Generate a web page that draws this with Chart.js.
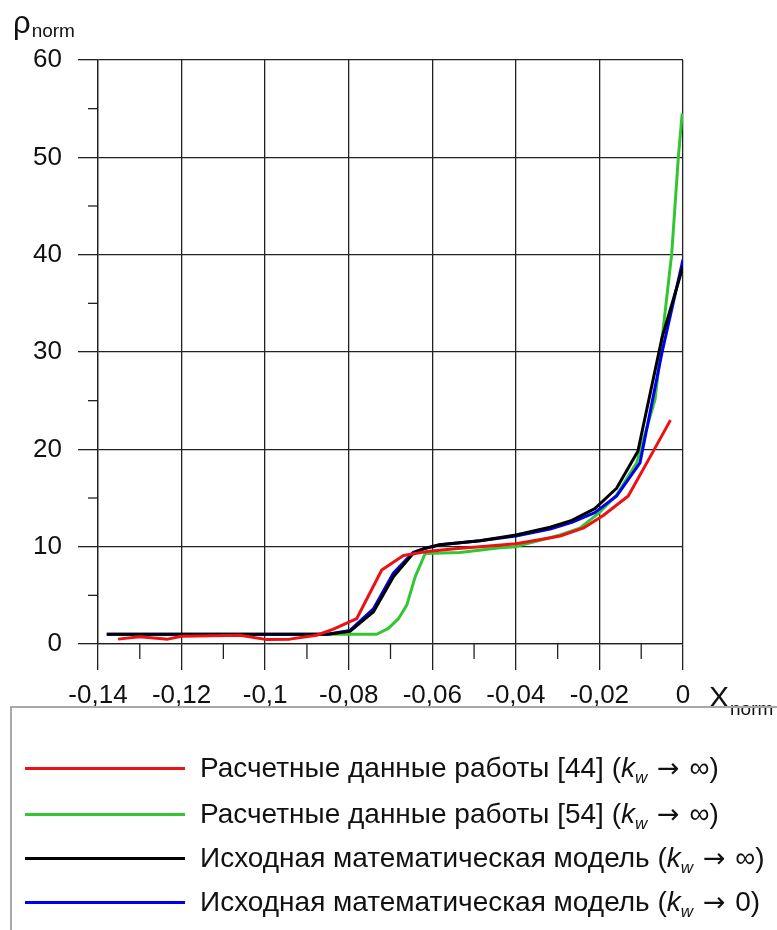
<!DOCTYPE html>
<html>
<head>
<meta charset="utf-8">
<script src="https://cdn.jsdelivr.net/npm/chart.js@4.4.1/dist/chart.umd.min.js"></script>
<style>
  html, body { margin: 0; padding: 0; background: #fff; }
  body { width: 777px; height: 930px; position: relative; overflow: hidden;
         font-family: "Liberation Sans", Arial, sans-serif; color: #111; }
  #wrap { position: absolute; left: 0; top: 0; width: 777px; height: 720px; }
  .title { position: absolute; white-space: nowrap; line-height: 1; }
  .title sub { font-size: 19px; vertical-align: baseline; position: relative; }
  #ytitle { left: 13px; top: 7px; font-size: 31px; }
  #ytitle sub { top: 4px; margin-left: 1px; }
  #xtitle { left: 709px; top: 682px; font-size: 30px; }
  #xtitle sub { top: 8px; margin-left: 1px; }
  #legend { position: absolute; left: 10px; top: 706px; width: 800px; height: 260px;
            border: 2px solid #a8a8a8; box-sizing: border-box; }
  .row { position: absolute; left: 0; height: 40px; width: 790px; }
  .row .swatch { position: absolute; left: 13px; width: 160px; height: 3px; top: 19px; }
  .row .label { position: absolute; left: 188px; top: 4px; font-size: 28px; white-space: nowrap; line-height: 32px; }
  .label i { font-style: italic; }
  .label sub { font-size: 17px; font-style: italic; vertical-align: baseline; position: relative; top: 6px; }
  .label .arr { font-family: "DejaVu Sans", sans-serif; font-size: 27px; margin: 0 2px; }
</style>
</head>
<body>
<div id="wrap"><canvas id="chart" width="777" height="720"></canvas></div>
<div id="ytitle" class="title">ρ<sub>norm</sub></div>
<div id="xtitle" class="title">X<sub>norm</sub></div>
<div id="legend"></div>
<script>
// Axis ticks
const xTickValues = [-0.14, -0.12, -0.1, -0.08, -0.06, -0.04, -0.02, 0];
const xTickLabels = ['-0,14', '-0,12', '-0,1', '-0,08', '-0,06', '-0,04', '-0,02', '0'];
const xMinorTicks = [-0.13, -0.11, -0.09, -0.07, -0.05, -0.03, -0.01];
const yTickValues = [0, 10, 20, 30, 40, 50, 60];
const yTickLabels = ['0', '10', '20', '30', '40', '50', '60'];
const yMinorTicks = [5, 15, 25, 35, 45, 55];

// Расчетные данные работы [44]
const redX = [-0.1352, -0.130, -0.1233, -0.120, -0.106, -0.0996, -0.0941, -0.0877, -0.0838, -0.0781, -0.0721, -0.0669, -0.0613, -0.0540, -0.0486, -0.040, -0.032, -0.0294, -0.0239, -0.0191, -0.0131, -0.0079, -0.0030];
const redY = [0.5, 0.75, 0.5, 0.8, 0.9, 0.45, 0.5, 0.9, 1.5, 2.6, 7.6, 9.1, 9.5, 9.8, 10.0, 10.3, 10.9, 11.1, 11.9, 13.2, 15.2, 19.2, 23.0];

// Расчетные данные работы [54]
const greenX = [-0.0845, -0.0733, -0.0705, -0.0681, -0.0661, -0.0641, -0.0617, -0.0534, -0.0438, -0.040, -0.0294, -0.0247, -0.0203, -0.0159, -0.0111, -0.0067, -0.0055, -0.0027, -0.0011, -0.0002];
const greenY = [1.0, 1.0, 1.6, 2.6, 4.0, 6.9, 9.3, 9.4, 9.9, 10.0, 11.2, 11.9, 13.4, 15.3, 18.6, 25.1, 29.5, 40.1, 50.1, 54.5];

// Исходная математическая модель (k_w → ∞)
const blackX = [-0.1379, -0.085, -0.0797, -0.0741, -0.0693, -0.0646, -0.0620, -0.0582, -0.0486, -0.040, -0.0318, -0.0266, -0.0211, -0.0159, -0.0108, -0.0050, 0];
const blackY = [1.0, 1.0, 1.3, 3.3, 6.9, 9.3, 9.8, 10.2, 10.6, 11.2, 12.0, 12.7, 13.9, 16.0, 19.8, 31.5, 38.8];

// Исходная математическая модель (k_w → 0)
const blueX = [-0.1379, -0.085, -0.0797, -0.0741, -0.0693, -0.0646, -0.0620, -0.0582, -0.0486, -0.040, -0.0318, -0.0266, -0.0211, -0.0159, -0.0103, -0.0050, 0];
const blueY = [1.0, 1.0, 1.4, 3.6, 7.3, 9.4, 9.8, 10.2, 10.6, 11.1, 11.8, 12.5, 13.5, 15.2, 18.6, 30.0, 39.5];

const arrow = '<span class="arr">→</span>';
const seriesNames = [
  'Расчетные данные работы [44] (<i>k</i><sub>w</sub> ' + arrow + ' ∞)',
  'Расчетные данные работы [54] (<i>k</i><sub>w</sub> ' + arrow + ' ∞)',
  'Исходная математическая модель (<i>k</i><sub>w</sub> ' + arrow + ' ∞)',
  'Исходная математическая модель (<i>k</i><sub>w</sub> ' + arrow + ' 0)'
];
const seriesColors = ['#ee1111', '#33c633', '#000000', '#0000ee'];

const toPoints = (xs, ys) => xs.map((x, i) => ({ x, y: ys[i] }));
const gridColor = '#222222';

const lineStyle = (color) => ({
  borderColor: color, backgroundColor: color, borderWidth: 3,
  pointRadius: 0, showLine: true, tension: 0, fill: false,
  borderJoinStyle: 'round', borderCapStyle: 'butt'
});

const minorTicks = {
  id: 'minorTicks',
  afterDraw(chart) {
    const { ctx, chartArea, scales } = chart;
    ctx.save();
    ctx.strokeStyle = gridColor;
    ctx.lineWidth = 1.3;
    yMinorTicks.forEach(v => {
      const py = scales.y.getPixelForValue(v);
      ctx.beginPath();
      ctx.moveTo(chartArea.left - 10, py);
      ctx.lineTo(chartArea.left, py);
      ctx.stroke();
    });
    xMinorTicks.forEach(v => {
      const px = scales.x.getPixelForValue(v);
      ctx.beginPath();
      ctx.moveTo(px, chartArea.bottom);
      ctx.lineTo(px, chartArea.bottom + 15);
      ctx.stroke();
    });
    ctx.restore();
  }
};

new Chart(document.getElementById('chart'), {
  type: 'scatter',
  data: {
    datasets: [
      { label: 'red', data: toPoints(redX, redY), ...lineStyle(seriesColors[0]) },
      { label: 'black', data: toPoints(blackX, blackY), ...lineStyle(seriesColors[2]) },
      { label: 'blue', data: toPoints(blueX, blueY), ...lineStyle(seriesColors[3]) },
      { label: 'green', data: toPoints(greenX, greenY), ...lineStyle(seriesColors[1]) }
    ]
  },
  options: {
    responsive: false,
    animation: false,
    devicePixelRatio: 1,
    layout: { padding: { left: 0, top: 60, right: 94, bottom: 0 } },
    plugins: { legend: { display: false }, tooltip: { enabled: false } },
    scales: {
      x: {
        type: 'linear', min: -0.14, max: 0,
        afterBuildTicks: axis => { axis.ticks = xTickValues.map(v => ({ value: v })); },
        afterFit: axis => { axis.height = 76; },
        ticks: {
          callback: (v, i) => xTickLabels[i],
          autoSkip: false, maxRotation: 0, padding: 10,
          color: '#111', font: { family: 'Liberation Sans, Arial, sans-serif', size: 26 }
        },
        grid: { color: gridColor, lineWidth: 1.3, tickLength: 26, drawTicks: true },
        border: { color: gridColor, width: 1.3 }
      },
      y: {
        type: 'linear', min: 0, max: 60,
        afterBuildTicks: axis => { axis.ticks = yTickValues.map(v => ({ value: v })); },
        afterFit: axis => { axis.width = 98; },
        ticks: {
          callback: (v, i) => yTickLabels[i],
          autoSkip: false, padding: 16,
          color: '#111', font: { family: 'Liberation Sans, Arial, sans-serif', size: 26 }
        },
        grid: { color: gridColor, lineWidth: 1.3, tickLength: 20, drawTicks: true },
        border: { color: gridColor, width: 1.3 }
      }
    }
  },
  plugins: [minorTicks]
});

// Legend rows
const legend = document.getElementById('legend');
const rowTops = [40, 86, 130, 174];
seriesNames.forEach((name, i) => {
  const row = document.createElement('div');
  row.className = 'row';
  row.style.top = rowTops[i] + 'px';
  const sw = document.createElement('div');
  sw.className = 'swatch';
  sw.style.background = seriesColors[i];
  const lb = document.createElement('div');
  lb.className = 'label';
  lb.innerHTML = name;
  row.appendChild(sw);
  row.appendChild(lb);
  legend.appendChild(row);
});
</script>
</body>
</html>
